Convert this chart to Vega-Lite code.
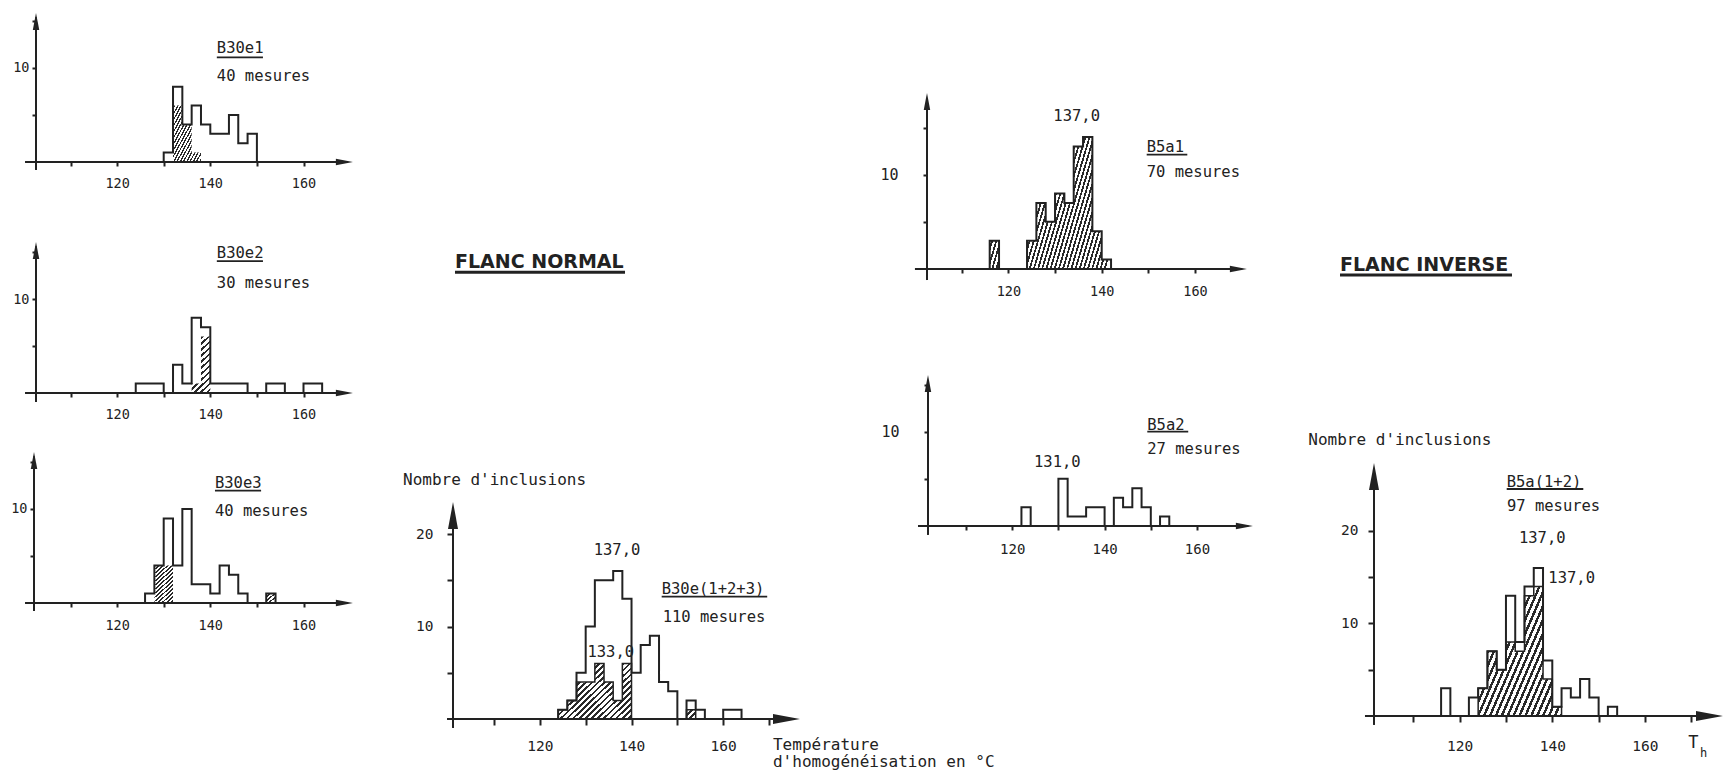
{
"$schema": "https://vega.github.io/schema/vega-lite/v6.json",
"width": 1733,
"height": 777,
"autosize": {"type": "none"},
"padding": 0,
"background": "white",
"config": {
 "view": {"stroke": null},
 "axis": {"domain": false, "grid": false, "tickColor": "#222", "tickWidth": 2, "labelColor": "#222", "labelFont": "DejaVu Sans Mono", "labelFontSize": 14, "labelOverlap": false, "labelFlush": false},
 "text": {"font": "DejaVu Sans Mono", "fontSize": 15.5, "fill": "#222", "baseline": "middle", "align": "left"},
 "rule": {"stroke": "#222", "strokeWidth": 2},
 "line": {"stroke": "#222", "strokeWidth": 2, "interpolate": "step-after"},
 "area": {"interpolate": "step-after", "fill": {"gradient": "linear", "x1": 0, "y1": 0, "x2": 1.17, "y2": 0.35, "stops": [
  {"offset":0,"color":"#2a2a2a"},{"offset":0.011,"color":"#2a2a2a"},{"offset":0.011,"color":"#ffffff"},{"offset":0.025,"color":"#ffffff"},
  {"offset":0.025,"color":"#2a2a2a"},{"offset":0.036,"color":"#2a2a2a"},{"offset":0.036,"color":"#ffffff"},{"offset":0.05,"color":"#ffffff"},
  {"offset":0.05,"color":"#2a2a2a"},{"offset":0.061,"color":"#2a2a2a"},{"offset":0.061,"color":"#ffffff"},{"offset":0.075,"color":"#ffffff"},
  {"offset":0.075,"color":"#2a2a2a"},{"offset":0.086,"color":"#2a2a2a"},{"offset":0.086,"color":"#ffffff"},{"offset":0.1,"color":"#ffffff"},
  {"offset":0.1,"color":"#2a2a2a"},{"offset":0.111,"color":"#2a2a2a"},{"offset":0.111,"color":"#ffffff"},{"offset":0.125,"color":"#ffffff"},
  {"offset":0.125,"color":"#2a2a2a"},{"offset":0.136,"color":"#2a2a2a"},{"offset":0.136,"color":"#ffffff"},{"offset":0.15,"color":"#ffffff"},
  {"offset":0.15,"color":"#2a2a2a"},{"offset":0.161,"color":"#2a2a2a"},{"offset":0.161,"color":"#ffffff"},{"offset":0.175,"color":"#ffffff"},
  {"offset":0.175,"color":"#2a2a2a"},{"offset":0.186,"color":"#2a2a2a"},{"offset":0.186,"color":"#ffffff"},{"offset":0.2,"color":"#ffffff"},
  {"offset":0.2,"color":"#2a2a2a"},{"offset":0.211,"color":"#2a2a2a"},{"offset":0.211,"color":"#ffffff"},{"offset":0.225,"color":"#ffffff"},
  {"offset":0.225,"color":"#2a2a2a"},{"offset":0.236,"color":"#2a2a2a"},{"offset":0.236,"color":"#ffffff"},{"offset":0.25,"color":"#ffffff"},
  {"offset":0.25,"color":"#2a2a2a"},{"offset":0.261,"color":"#2a2a2a"},{"offset":0.261,"color":"#ffffff"},{"offset":0.275,"color":"#ffffff"},
  {"offset":0.275,"color":"#2a2a2a"},{"offset":0.286,"color":"#2a2a2a"},{"offset":0.286,"color":"#ffffff"},{"offset":0.3,"color":"#ffffff"},
  {"offset":0.3,"color":"#2a2a2a"},{"offset":0.311,"color":"#2a2a2a"},{"offset":0.311,"color":"#ffffff"},{"offset":0.325,"color":"#ffffff"},
  {"offset":0.325,"color":"#2a2a2a"},{"offset":0.336,"color":"#2a2a2a"},{"offset":0.336,"color":"#ffffff"},{"offset":0.35,"color":"#ffffff"},
  {"offset":0.35,"color":"#2a2a2a"},{"offset":0.361,"color":"#2a2a2a"},{"offset":0.361,"color":"#ffffff"},{"offset":0.375,"color":"#ffffff"},
  {"offset":0.375,"color":"#2a2a2a"},{"offset":0.386,"color":"#2a2a2a"},{"offset":0.386,"color":"#ffffff"},{"offset":0.4,"color":"#ffffff"},
  {"offset":0.4,"color":"#2a2a2a"},{"offset":0.411,"color":"#2a2a2a"},{"offset":0.411,"color":"#ffffff"},{"offset":0.425,"color":"#ffffff"},
  {"offset":0.425,"color":"#2a2a2a"},{"offset":0.436,"color":"#2a2a2a"},{"offset":0.436,"color":"#ffffff"},{"offset":0.45,"color":"#ffffff"},
  {"offset":0.45,"color":"#2a2a2a"},{"offset":0.461,"color":"#2a2a2a"},{"offset":0.461,"color":"#ffffff"},{"offset":0.475,"color":"#ffffff"},
  {"offset":0.475,"color":"#2a2a2a"},{"offset":0.486,"color":"#2a2a2a"},{"offset":0.486,"color":"#ffffff"},{"offset":0.5,"color":"#ffffff"},
  {"offset":0.5,"color":"#2a2a2a"},{"offset":0.511,"color":"#2a2a2a"},{"offset":0.511,"color":"#ffffff"},{"offset":0.525,"color":"#ffffff"},
  {"offset":0.525,"color":"#2a2a2a"},{"offset":0.536,"color":"#2a2a2a"},{"offset":0.536,"color":"#ffffff"},{"offset":0.55,"color":"#ffffff"},
  {"offset":0.55,"color":"#2a2a2a"},{"offset":0.561,"color":"#2a2a2a"},{"offset":0.561,"color":"#ffffff"},{"offset":0.575,"color":"#ffffff"},
  {"offset":0.575,"color":"#2a2a2a"},{"offset":0.586,"color":"#2a2a2a"},{"offset":0.586,"color":"#ffffff"},{"offset":0.6,"color":"#ffffff"},
  {"offset":0.6,"color":"#2a2a2a"},{"offset":0.611,"color":"#2a2a2a"},{"offset":0.611,"color":"#ffffff"},{"offset":0.625,"color":"#ffffff"},
  {"offset":0.625,"color":"#2a2a2a"},{"offset":0.636,"color":"#2a2a2a"},{"offset":0.636,"color":"#ffffff"},{"offset":0.65,"color":"#ffffff"},
  {"offset":0.65,"color":"#2a2a2a"},{"offset":0.661,"color":"#2a2a2a"},{"offset":0.661,"color":"#ffffff"},{"offset":0.675,"color":"#ffffff"},
  {"offset":0.675,"color":"#2a2a2a"},{"offset":0.686,"color":"#2a2a2a"},{"offset":0.686,"color":"#ffffff"},{"offset":0.7,"color":"#ffffff"},
  {"offset":0.7,"color":"#2a2a2a"},{"offset":0.711,"color":"#2a2a2a"},{"offset":0.711,"color":"#ffffff"},{"offset":0.725,"color":"#ffffff"},
  {"offset":0.725,"color":"#2a2a2a"},{"offset":0.736,"color":"#2a2a2a"},{"offset":0.736,"color":"#ffffff"},{"offset":0.75,"color":"#ffffff"},
  {"offset":0.75,"color":"#2a2a2a"},{"offset":0.761,"color":"#2a2a2a"},{"offset":0.761,"color":"#ffffff"},{"offset":0.775,"color":"#ffffff"},
  {"offset":0.775,"color":"#2a2a2a"},{"offset":0.786,"color":"#2a2a2a"},{"offset":0.786,"color":"#ffffff"},{"offset":0.8,"color":"#ffffff"},
  {"offset":0.8,"color":"#2a2a2a"},{"offset":0.811,"color":"#2a2a2a"},{"offset":0.811,"color":"#ffffff"},{"offset":0.825,"color":"#ffffff"},
  {"offset":0.825,"color":"#2a2a2a"},{"offset":0.836,"color":"#2a2a2a"},{"offset":0.836,"color":"#ffffff"},{"offset":0.85,"color":"#ffffff"},
  {"offset":0.85,"color":"#2a2a2a"},{"offset":0.861,"color":"#2a2a2a"},{"offset":0.861,"color":"#ffffff"},{"offset":0.875,"color":"#ffffff"},
  {"offset":0.875,"color":"#2a2a2a"},{"offset":0.886,"color":"#2a2a2a"},{"offset":0.886,"color":"#ffffff"},{"offset":0.9,"color":"#ffffff"},
  {"offset":0.9,"color":"#2a2a2a"},{"offset":0.911,"color":"#2a2a2a"},{"offset":0.911,"color":"#ffffff"},{"offset":0.925,"color":"#ffffff"},
  {"offset":0.925,"color":"#2a2a2a"},{"offset":0.936,"color":"#2a2a2a"},{"offset":0.936,"color":"#ffffff"},{"offset":0.95,"color":"#ffffff"},
  {"offset":0.95,"color":"#2a2a2a"},{"offset":0.961,"color":"#2a2a2a"},{"offset":0.961,"color":"#ffffff"},{"offset":0.975,"color":"#ffffff"},
  {"offset":0.975,"color":"#2a2a2a"},{"offset":0.986,"color":"#2a2a2a"},{"offset":0.986,"color":"#ffffff"},{"offset":1,"color":"#ffffff"}
 ]}},
 "point": {"filled": true, "fill": "#222", "opacity": 1, "strokeWidth": 0}
},
"datasets": {
 "B30e1": [{"t":128,"n":0,"h":0},{"t":130,"n":1,"h":0},{"t":132,"n":8,"h":6},{"t":134,"n":4,"h":4},{"t":136,"n":6,"h":1},{"t":138,"n":4,"h":0},{"t":140,"n":3,"h":0},{"t":142,"n":3,"h":0},{"t":144,"n":5,"h":0},{"t":146,"n":2,"h":0},{"t":148,"n":3,"h":0},{"t":150,"n":0,"h":0}],
 "B30e2": [{"t":122,"n":0,"h":0},{"t":124,"n":1,"h":0},{"t":126,"n":1,"h":0},{"t":128,"n":1,"h":0},{"t":130,"n":0,"h":0},{"t":132,"n":3,"h":0},{"t":134,"n":1,"h":0},{"t":136,"n":8,"h":1},{"t":138,"n":7,"h":6},{"t":140,"n":1,"h":0},{"t":142,"n":1,"h":0},{"t":144,"n":1,"h":0},{"t":146,"n":1,"h":0},{"t":148,"n":0,"h":0},{"t":150,"n":0,"h":0},{"t":152,"n":1,"h":0},{"t":154,"n":1,"h":0},{"t":156,"n":0,"h":0},{"t":158,"n":0,"h":0},{"t":160,"n":1,"h":0},{"t":162,"n":1,"h":0},{"t":164,"n":0,"h":0}],
 "B30e3": [{"t":124,"n":0,"h":0},{"t":126,"n":1,"h":0},{"t":128,"n":4,"h":4},{"t":130,"n":9,"h":4},{"t":132,"n":4,"h":0},{"t":134,"n":10,"h":0},{"t":136,"n":2,"h":0},{"t":138,"n":2,"h":0},{"t":140,"n":1,"h":0},{"t":142,"n":4,"h":0},{"t":144,"n":3,"h":0},{"t":146,"n":1,"h":0},{"t":148,"n":0,"h":0},{"t":150,"n":0,"h":0},{"t":152,"n":1,"h":1},{"t":154,"n":0,"h":0}],
 "B30e123": [{"t":122,"n":0,"h":0},{"t":124,"n":1,"h":1},{"t":126,"n":2,"h":2},{"t":128,"n":5,"h":4},{"t":130,"n":10,"h":4},{"t":132,"n":15,"h":6},{"t":134,"n":15,"h":4},{"t":136,"n":16,"h":2},{"t":138,"n":13,"h":6},{"t":140,"n":5,"h":0},{"t":142,"n":8,"h":0},{"t":144,"n":9,"h":0},{"t":146,"n":4,"h":0},{"t":148,"n":3,"h":0},{"t":150,"n":0,"h":0},{"t":152,"n":2,"h":1},{"t":154,"n":1,"h":0},{"t":156,"n":0,"h":0},{"t":158,"n":0,"h":0},{"t":160,"n":1,"h":0},{"t":162,"n":1,"h":0},{"t":164,"n":0,"h":0}],
 "B5a1": [{"t":114,"n":0,"h":0},{"t":116,"n":3,"h":3},{"t":118,"n":0,"h":0},{"t":120,"n":0,"h":0},{"t":122,"n":0,"h":0},{"t":124,"n":3,"h":3},{"t":126,"n":7,"h":7},{"t":128,"n":5,"h":5},{"t":130,"n":8,"h":8},{"t":132,"n":7,"h":7},{"t":134,"n":13,"h":13},{"t":136,"n":14,"h":14},{"t":138,"n":4,"h":4},{"t":140,"n":1,"h":1},{"t":142,"n":0,"h":0}],
 "B5a2": [{"t":120,"n":0,"h":0},{"t":122,"n":2,"h":0},{"t":124,"n":0,"h":0},{"t":126,"n":0,"h":0},{"t":128,"n":0,"h":0},{"t":130,"n":5,"h":0},{"t":132,"n":1,"h":0},{"t":134,"n":1,"h":0},{"t":136,"n":2,"h":0},{"t":138,"n":2,"h":0},{"t":140,"n":0,"h":0},{"t":142,"n":3,"h":0},{"t":144,"n":2,"h":0},{"t":146,"n":4,"h":0},{"t":148,"n":2,"h":0},{"t":150,"n":0,"h":0},{"t":152,"n":1,"h":0},{"t":154,"n":0,"h":0}],
 "B5a12": [{"t":114,"n":0,"h":0},{"t":116,"n":3,"h":0},{"t":118,"n":0,"h":0},{"t":120,"n":0,"h":0},{"t":122,"n":2,"h":0},{"t":124,"n":3,"h":3},{"t":126,"n":7,"h":7},{"t":128,"n":5,"h":5},{"t":130,"n":13,"h":8},{"t":132,"n":8,"h":7},{"t":134,"n":14,"h":13},{"t":136,"n":16,"h":14},{"t":138,"n":6,"h":4},{"t":140,"n":1,"h":1},{"t":142,"n":3,"h":0},{"t":144,"n":2,"h":0},{"t":146,"n":4,"h":0},{"t":148,"n":2,"h":0},{"t":150,"n":0,"h":0},{"t":152,"n":1,"h":0},{"t":154,"n":0,"h":0}]
},
"resolve": {"scale": {"x": "independent", "y": "independent"}, "axis": {"x": "independent", "y": "independent"}},
"layer": [
 {"data": {"name": "B30e1"}, "layer": [
   {"mark": {"type": "area"}, "encoding": {
     "x": {"field": "t", "type": "quantitative", "scale": {"domain": [94.871, 466.759], "nice": false, "zero": false}, "axis": {"title": null, "orient": "bottom", "offset": -615, "values": [110,120,130,140,150,160], "labelExpr": "datum.value % 20 == 0 ? datum.label : ''", "tickSize": 4, "labelPadding": 10, "labelFontSize": 13.5}},
     "y": {"field": "h", "type": "quantitative", "scale": {"domain": [-65.426, 17.234], "nice": false, "zero": false}, "axis": {"title": null, "orient": "left", "offset": -36, "values": [5,10,15], "labelExpr": "datum.value % 10 == 0 ? datum.label : ''", "tickSize": 4, "labelPadding": 3, "labelFontSize": 13.5}},
     "y2": {"datum": 0}}},
   {"mark": {"type": "line"}, "encoding": {"x": {"field": "t", "type": "quantitative"}, "y": {"field": "n", "type": "quantitative"}}},
   {"data": {"values": [{}]}, "mark": {"type": "rule"}, "encoding": {"x": {"datum": 100.24}, "x2": {"datum": 169.5}, "y": {"datum": 0}}},
   {"data": {"values": [{}]}, "mark": {"type": "rule"}, "encoding": {"x": {"datum": 102.6}, "y": {"datum": -0.85}, "y2": {"datum": 15.4}}},
   {"data": {"values": [{}]}, "mark": {"type": "point", "shape": "M-2,-0.38L0,0L-2,0.38Z", "size": 289}, "encoding": {"x": {"datum": 170.6}, "y": {"datum": 0}}},
   {"data": {"values": [{}]}, "mark": {"type": "point", "shape": "M-0.38,2L0,0L0.38,2Z", "size": 289}, "encoding": {"x": {"datum": 102.6}, "y": {"datum": 15.85}}},
   {"data": {"values": [{}]}, "mark": {"type": "text", "text": "B30e1"}, "encoding": {"x": {"datum": 141.4}, "y": {"datum": 12.1}}},
   {"data": {"values": [{}]}, "mark": {"type": "rule", "strokeWidth": 1.8}, "encoding": {"x": {"datum": 141.4}, "x2": {"datum": 151.3}, "y": {"datum": 11.14}}},
   {"data": {"values": [{}]}, "mark": {"type": "text", "text": "40 mesures"}, "encoding": {"x": {"datum": 141.4}, "y": {"datum": 9.15}}}
 ]},
 {"data": {"name": "B30e2"}, "layer": [
   {"mark": {"type": "area"}, "encoding": {
     "x": {"field": "t", "type": "quantitative", "scale": {"domain": [94.871, 466.759], "nice": false, "zero": false}, "axis": {"title": null, "orient": "bottom", "offset": -384, "values": [110,120,130,140,150,160], "labelExpr": "datum.value % 20 == 0 ? datum.label : ''", "tickSize": 4, "labelPadding": 10, "labelFontSize": 13.5}},
     "y": {"field": "h", "type": "quantitative", "scale": {"domain": [-40.851, 41.809], "nice": false, "zero": false}, "axis": {"title": null, "orient": "left", "offset": -36, "values": [5,10,15], "labelExpr": "datum.value % 10 == 0 ? datum.label : ''", "tickSize": 4, "labelPadding": 3, "labelFontSize": 13.5}},
     "y2": {"datum": 0}}},
   {"mark": {"type": "line"}, "encoding": {"x": {"field": "t", "type": "quantitative"}, "y": {"field": "n", "type": "quantitative"}}},
   {"data": {"values": [{}]}, "mark": {"type": "rule"}, "encoding": {"x": {"datum": 100.24}, "x2": {"datum": 169.5}, "y": {"datum": 0}}},
   {"data": {"values": [{}]}, "mark": {"type": "rule"}, "encoding": {"x": {"datum": 102.6}, "y": {"datum": -0.96}, "y2": {"datum": 15.6}}},
   {"data": {"values": [{}]}, "mark": {"type": "point", "shape": "M-2,-0.38L0,0L-2,0.38Z", "size": 289}, "encoding": {"x": {"datum": 170.6}, "y": {"datum": 0}}},
   {"data": {"values": [{}]}, "mark": {"type": "point", "shape": "M-0.38,2L0,0L0.38,2Z", "size": 289}, "encoding": {"x": {"datum": 102.6}, "y": {"datum": 16.06}}},
   {"data": {"values": [{}]}, "mark": {"type": "text", "text": "B30e2"}, "encoding": {"x": {"datum": 141.4}, "y": {"datum": 14.86}}},
   {"data": {"values": [{}]}, "mark": {"type": "rule", "strokeWidth": 1.8}, "encoding": {"x": {"datum": 141.4}, "x2": {"datum": 151.3}, "y": {"datum": 14.04}}},
   {"data": {"values": [{}]}, "mark": {"type": "text", "text": "30 mesures"}, "encoding": {"x": {"datum": 141.4}, "y": {"datum": 11.67}}}
 ]},
 {"data": {"name": "B30e3"}, "layer": [
   {"mark": {"type": "area"}, "encoding": {
     "x": {"field": "t", "type": "quantitative", "scale": {"domain": [94.871, 466.759], "nice": false, "zero": false}, "axis": {"title": null, "orient": "bottom", "offset": -174, "values": [110,120,130,140,150,160], "labelExpr": "datum.value % 20 == 0 ? datum.label : ''", "tickSize": 4, "labelPadding": 11, "labelFontSize": 13.5}},
     "y": {"field": "h", "type": "quantitative", "scale": {"domain": [-18.511, 64.149], "nice": false, "zero": false}, "axis": {"title": null, "orient": "left", "offset": -34, "values": [5,10,15], "labelExpr": "datum.value % 10 == 0 ? datum.label : ''", "tickSize": 4, "labelPadding": 3, "labelFontSize": 13.5}},
     "y2": {"datum": 0}}},
   {"mark": {"type": "line"}, "encoding": {"x": {"field": "t", "type": "quantitative"}, "y": {"field": "n", "type": "quantitative"}}},
   {"data": {"values": [{}]}, "mark": {"type": "rule"}, "encoding": {"x": {"datum": 100.24}, "x2": {"datum": 169.5}, "y": {"datum": 0}}},
   {"data": {"values": [{}]}, "mark": {"type": "rule"}, "encoding": {"x": {"datum": 102.17}, "y": {"datum": -0.85}, "y2": {"datum": 15.6}}},
   {"data": {"values": [{}]}, "mark": {"type": "point", "shape": "M-2,-0.38L0,0L-2,0.38Z", "size": 289}, "encoding": {"x": {"datum": 170.6}, "y": {"datum": 0}}},
   {"data": {"values": [{}]}, "mark": {"type": "point", "shape": "M-0.38,2L0,0L0.38,2Z", "size": 289}, "encoding": {"x": {"datum": 102.17}, "y": {"datum": 16.06}}},
   {"data": {"values": [{}]}, "mark": {"type": "text", "text": "B30e3"}, "encoding": {"x": {"datum": 141.0}, "y": {"datum": 12.77}}},
   {"data": {"values": [{}]}, "mark": {"type": "rule", "strokeWidth": 1.8}, "encoding": {"x": {"datum": 141.0}, "x2": {"datum": 150.9}, "y": {"datum": 11.95}}},
   {"data": {"values": [{}]}, "mark": {"type": "text", "text": "40 mesures"}, "encoding": {"x": {"datum": 141.0}, "y": {"datum": 9.82}}}
 ]},
 {"data": {"name": "B30e123"}, "layer": [
   {"mark": {"type": "area"}, "encoding": {
     "x": {"field": "t", "type": "quantitative", "scale": {"domain": [2.234, 380.288], "nice": false, "zero": false}, "axis": {"title": null, "orient": "bottom", "offset": -58, "values": [110,120,130,140,150,160,170], "labelExpr": "datum.value % 20 == 0 ? datum.label : ''", "tickSize": 6, "labelPadding": 14, "labelFontSize": 14.5}},
     "y": {"field": "h", "type": "quantitative", "scale": {"domain": [-6.27, 77.73], "nice": false, "zero": false}, "axis": {"title": null, "orient": "left", "offset": -453, "values": [5,10,15,20], "labelExpr": "datum.value % 10 == 0 ? datum.label : ''", "tickSize": 6, "labelPadding": 14, "labelFontSize": 14.5}},
     "y2": {"datum": 0}}},
   {"mark": {"type": "line", "strokeWidth": 1.5}, "encoding": {"x": {"field": "t", "type": "quantitative"}, "y": {"field": "h", "type": "quantitative"}}},
   {"mark": {"type": "line"}, "encoding": {"x": {"field": "t", "type": "quantitative"}, "y": {"field": "n", "type": "quantitative"}}},
   {"data": {"values": [{}]}, "mark": {"type": "rule"}, "encoding": {"x": {"datum": 99.75}, "x2": {"datum": 175.0}, "y": {"datum": 0}}},
   {"data": {"values": [{}]}, "mark": {"type": "rule"}, "encoding": {"x": {"datum": 101.06}, "y": {"datum": -0.97}, "y2": {"datum": 22.6}}},
   {"data": {"values": [{}]}, "mark": {"type": "point", "shape": "M-2,-0.37L0,0L-2,0.37Z", "size": 729}, "encoding": {"x": {"datum": 176.75}, "y": {"datum": 0}}},
   {"data": {"values": [{}]}, "mark": {"type": "point", "shape": "M-0.37,2L0,0L0.37,2Z", "size": 729}, "encoding": {"x": {"datum": 101.06}, "y": {"datum": 23.46}}},
   {"data": {"values": [{}]}, "mark": {"type": "text", "text": "FLANC NORMAL", "font": "DejaVu Sans", "fontWeight": "bold", "fontSize": 19}, "encoding": {"x": {"datum": 101.49}, "y": {"datum": 49.41}}},
   {"data": {"values": [{}]}, "mark": {"type": "rule", "strokeWidth": 3}, "encoding": {"x": {"datum": 101.49}, "x2": {"datum": 138.58}, "y": {"datum": 48.29}}},
   {"data": {"values": [{}]}, "mark": {"type": "text", "text": "Nombre d'inclusions", "fontSize": 16}, "encoding": {"x": {"datum": 90.15}, "y": {"datum": 25.84}}},
   {"data": {"values": [{}]}, "mark": {"type": "text", "text": "137,0", "align": "center"}, "encoding": {"x": {"datum": 136.83}, "y": {"datum": 18.27}}},
   {"data": {"values": [{}]}, "mark": {"type": "text", "text": "133,0", "align": "center"}, "encoding": {"x": {"datum": 135.46}, "y": {"datum": 7.28}}},
   {"data": {"values": [{}]}, "mark": {"type": "text", "text": "B30e(1+2+3)"}, "encoding": {"x": {"datum": 146.58}, "y": {"datum": 14.02}}},
   {"data": {"values": [{}]}, "mark": {"type": "rule", "strokeWidth": 1.8}, "encoding": {"x": {"datum": 146.58}, "x2": {"datum": 169.6}, "y": {"datum": 13.22}}},
   {"data": {"values": [{}]}, "mark": {"type": "text", "text": "110 mesures"}, "encoding": {"x": {"datum": 146.8}, "y": {"datum": 10.99}}},
   {"data": {"values": [{}]}, "mark": {"type": "text", "text": "Température", "fontSize": 16}, "encoding": {"x": {"datum": 170.86}, "y": {"datum": -2.81}}},
   {"data": {"values": [{}]}, "mark": {"type": "text", "text": "d'homogénéisation en °C", "fontSize": 16}, "encoding": {"x": {"datum": 170.86}, "y": {"datum": -4.62}}}
 ]},
 {"data": {"name": "B5a1"}, "layer": [
   {"mark": {"type": "area"}, "encoding": {
     "x": {"field": "t", "type": "quantitative", "scale": {"domain": [-96.064, 275.267], "nice": false, "zero": false}, "axis": {"title": null, "orient": "bottom", "offset": -508, "values": [110,120,130,140,150,160], "labelExpr": "datum.value % 20 == 0 ? datum.label : ''", "tickSize": 4, "labelPadding": 11, "labelFontSize": 13.5}},
     "y": {"field": "h", "type": "quantitative", "scale": {"domain": [-53.871, 28.526], "nice": false, "zero": false}, "axis": {"title": null, "orient": "left", "offset": -927, "values": [5,10,15], "labelExpr": "datum.value % 10 == 0 ? datum.label : ''", "tickSize": 4, "labelPadding": 25, "labelFontSize": 15}},
     "y2": {"datum": 0}}},
   {"mark": {"type": "line"}, "encoding": {"x": {"field": "t", "type": "quantitative"}, "y": {"field": "n", "type": "quantitative"}}},
   {"data": {"values": [{}]}, "mark": {"type": "rule"}, "encoding": {"x": {"datum": 99.98}, "x2": {"datum": 170.1}, "y": {"datum": 0}}},
   {"data": {"values": [{}]}, "mark": {"type": "rule"}, "encoding": {"x": {"datum": 102.56}, "y": {"datum": -1.17}, "y2": {"datum": 18.0}}},
   {"data": {"values": [{}]}, "mark": {"type": "point", "shape": "M-2,-0.38L0,0L-2,0.38Z", "size": 289}, "encoding": {"x": {"datum": 171.1}, "y": {"datum": 0}}},
   {"data": {"values": [{}]}, "mark": {"type": "point", "shape": "M-0.38,2L0,0L0.38,2Z", "size": 289}, "encoding": {"x": {"datum": 102.56}, "y": {"datum": 18.66}}},
   {"data": {"values": [{}]}, "mark": {"type": "text", "text": "137,0", "align": "center"}, "encoding": {"x": {"datum": 134.64}, "y": {"datum": 16.18}}},
   {"data": {"values": [{}]}, "mark": {"type": "text", "text": "B5a1"}, "encoding": {"x": {"datum": 149.64}, "y": {"datum": 12.94}}},
   {"data": {"values": [{}]}, "mark": {"type": "rule", "strokeWidth": 1.8}, "encoding": {"x": {"datum": 149.64}, "x2": {"datum": 158.34}, "y": {"datum": 12.12}}},
   {"data": {"values": [{}]}, "mark": {"type": "text", "text": "70 mesures"}, "encoding": {"x": {"datum": 149.64}, "y": {"datum": 10.24}}}
 ]},
 {"data": {"name": "B5a2"}, "layer": [
   {"mark": {"type": "area"}, "encoding": {
     "x": {"field": "t", "type": "quantitative", "scale": {"domain": [-99.091, 276.017], "nice": false, "zero": false}, "axis": {"title": null, "orient": "bottom", "offset": -251, "values": [110,120,130,140,150,160], "labelExpr": "datum.value % 20 == 0 ? datum.label : ''", "tickSize": 4, "labelPadding": 12, "labelFontSize": 14}},
     "y": {"field": "h", "type": "quantitative", "scale": {"domain": [-26.617, 55.78], "nice": false, "zero": false}, "axis": {"title": null, "orient": "left", "offset": -928, "values": [5,10,15], "labelExpr": "datum.value % 10 == 0 ? datum.label : ''", "tickSize": 4, "labelPadding": 25, "labelFontSize": 15}},
     "y2": {"datum": 0}}},
   {"mark": {"type": "line"}, "encoding": {"x": {"field": "t", "type": "quantitative"}, "y": {"field": "n", "type": "quantitative"}}},
   {"data": {"values": [{}]}, "mark": {"type": "rule"}, "encoding": {"x": {"datum": 99.61}, "x2": {"datum": 171.1}, "y": {"datum": 0}}},
   {"data": {"values": [{}]}, "mark": {"type": "rule"}, "encoding": {"x": {"datum": 101.77}, "y": {"datum": -0.95}, "y2": {"datum": 15.4}}},
   {"data": {"values": [{}]}, "mark": {"type": "point", "shape": "M-2,-0.38L0,0L-2,0.38Z", "size": 289}, "encoding": {"x": {"datum": 172.1}, "y": {"datum": 0}}},
   {"data": {"values": [{}]}, "mark": {"type": "point", "shape": "M-0.38,2L0,0L0.38,2Z", "size": 289}, "encoding": {"x": {"datum": 101.77}, "y": {"datum": 16.01}}},
   {"data": {"values": [{}]}, "mark": {"type": "text", "text": "131,0", "align": "center"}, "encoding": {"x": {"datum": 129.76}, "y": {"datum": 6.82}}},
   {"data": {"values": [{}]}, "mark": {"type": "text", "text": "B5a2"}, "encoding": {"x": {"datum": 149.24}, "y": {"datum": 10.71}}},
   {"data": {"values": [{}]}, "mark": {"type": "rule", "strokeWidth": 1.8}, "encoding": {"x": {"datum": 149.24}, "x2": {"datum": 158.1}, "y": {"datum": 10.0}}},
   {"data": {"values": [{}]}, "mark": {"type": "text", "text": "27 mesures"}, "encoding": {"x": {"datum": 149.24}, "y": {"datum": 8.13}}}
 ]},
 {"data": {"name": "B5a12"}, "layer": [
   {"mark": {"type": "area"}, "encoding": {
     "x": {"field": "t", "type": "quantitative", "scale": {"domain": [-195.051, 179.005], "nice": false, "zero": false}, "axis": {"title": null, "orient": "bottom", "offset": -61, "values": [110,120,130,140,150,160,170], "labelExpr": "datum.value % 20 == 0 ? datum.label : ''", "tickSize": 6, "labelPadding": 17, "labelFontSize": 14.5}},
     "y": {"field": "h", "type": "quantitative", "scale": {"domain": [-6.595, 77.405], "nice": false, "zero": false}, "axis": {"title": null, "orient": "left", "offset": -1374, "values": [5,10,15,20], "labelExpr": "datum.value % 10 == 0 ? datum.label : ''", "tickSize": 6, "labelPadding": 10, "labelFontSize": 14.5}},
     "y2": {"datum": 0}}},
   {"mark": {"type": "line", "strokeWidth": 1.5}, "encoding": {"x": {"field": "t", "type": "quantitative"}, "y": {"field": "h", "type": "quantitative"}}},
   {"mark": {"type": "line"}, "encoding": {"x": {"field": "t", "type": "quantitative"}, "y": {"field": "n", "type": "quantitative"}}},
   {"data": {"values": [{}]}, "mark": {"type": "rule"}, "encoding": {"x": {"datum": 99.57}, "x2": {"datum": 175.0}, "y": {"datum": 0}}},
   {"data": {"values": [{}]}, "mark": {"type": "rule"}, "encoding": {"x": {"datum": 101.52}, "y": {"datum": -0.97}, "y2": {"datum": 26.5}}},
   {"data": {"values": [{}]}, "mark": {"type": "point", "shape": "M-2,-0.37L0,0L-2,0.37Z", "size": 729}, "encoding": {"x": {"datum": 176.84}, "y": {"datum": 0}}},
   {"data": {"values": [{}]}, "mark": {"type": "point", "shape": "M-0.37,2L0,0L0.37,2Z", "size": 729}, "encoding": {"x": {"datum": 101.52}, "y": {"datum": 27.35}}},
   {"data": {"values": [{}]}, "mark": {"type": "text", "text": "FLANC INVERSE", "font": "DejaVu Sans", "fontWeight": "bold", "fontSize": 19}, "encoding": {"x": {"datum": 94.18}, "y": {"datum": 48.76}}},
   {"data": {"values": [{}]}, "mark": {"type": "rule", "strokeWidth": 3}, "encoding": {"x": {"datum": 94.18}, "x2": {"datum": 131.3}, "y": {"datum": 47.68}}},
   {"data": {"values": [{}]}, "mark": {"type": "text", "text": "Nombre d'inclusions", "fontSize": 16}, "encoding": {"x": {"datum": 87.34}, "y": {"datum": 29.84}}},
   {"data": {"values": [{}]}, "mark": {"type": "text", "text": "B5a(1+2)"}, "encoding": {"x": {"datum": 130.16}, "y": {"datum": 25.33}}},
   {"data": {"values": [{}]}, "mark": {"type": "rule", "strokeWidth": 1.8}, "encoding": {"x": {"datum": 130.16}, "x2": {"datum": 146.69}, "y": {"datum": 24.54}}},
   {"data": {"values": [{}]}, "mark": {"type": "text", "text": "97 mesures"}, "encoding": {"x": {"datum": 130.2}, "y": {"datum": 22.7}}},
   {"data": {"values": [{}]}, "mark": {"type": "text", "text": "137,0", "align": "center"}, "encoding": {"x": {"datum": 137.84}, "y": {"datum": 19.21}}},
   {"data": {"values": [{}]}, "mark": {"type": "text", "text": "137,0"}, "encoding": {"x": {"datum": 139.14}, "y": {"datum": 14.89}}},
   {"data": {"values": [{}]}, "mark": {"type": "text", "text": "T", "align": "center", "fontSize": 17}, "encoding": {"x": {"datum": 170.44}, "y": {"datum": -2.95}}},
   {"data": {"values": [{}]}, "mark": {"type": "text", "text": "h", "fontSize": 12}, "encoding": {"x": {"datum": 171.9}, "y": {"datum": -4.03}}}
 ]}
]
}
